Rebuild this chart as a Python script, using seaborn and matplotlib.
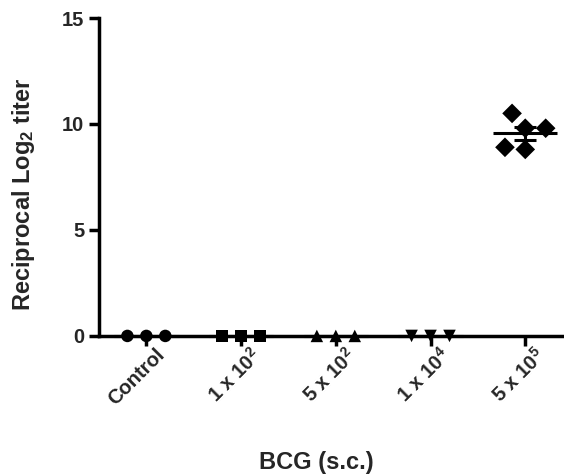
import numpy as np
import pandas as pd
import seaborn as sns
import matplotlib
matplotlib.use('Agg')
import matplotlib.pyplot as plt
from matplotlib.transforms import ScaledTranslation

# dane (log2 miana)
groups = ['Control', '1 x 10$^2$', '5 x 10$^2$', '1 x 10$^4$', '5 x 10$^5$']
control = [0, 0, 0]
bcg_1e2 = [0, 0, 0]
bcg_5e2 = [0, 0, 0]
bcg_1e4 = [0, 0, 0]
bcg_5e5 = [9.8, 9.8, 10.5, 8.8, 8.9]
markers = ['o', 's', '^', 'v', 'D']

sns.set_style('ticks')
plt.rcParams['font.family'] = ['Liberation Sans', 'DejaVu Sans']
plt.rcParams['font.weight'] = 'bold'
plt.rcParams['mathtext.fontset'] = 'custom'
plt.rcParams['mathtext.rm'] = 'Liberation Sans:bold'
plt.rcParams['mathtext.it'] = 'Liberation Sans:bold'
plt.rcParams['mathtext.bf'] = 'Liberation Sans:bold'
plt.rcParams['mathtext.default'] = 'rm'

series = [control, bcg_1e2, bcg_5e2, bcg_1e4, bcg_5e5]
df = pd.DataFrame({
    'group': np.repeat(groups, [len(s) for s in series]),
    'titer': np.concatenate(series),
})

fig = plt.figure(figsize=(5.64, 4.74), dpi=100)
ax = fig.add_axes([0.1755, 0.26, 0.823, 0.702])

for g, m in zip(groups, markers):
    sub = df[df['group'] == g]
    sns.swarmplot(data=sub, x='group', y='titer', order=groups, ax=ax,
                  marker=m, color='black', size=10 if m == 'D' else 9,
                  linewidth=4, edgecolor='none', zorder=5)

# srednia +/- SEM
for i, vals in enumerate(series):
    vals = np.asarray(vals, dtype=float)
    mean = vals.mean()
    sem = vals.std(ddof=1) / np.sqrt(len(vals))
    ax.hlines(mean, i - 0.34, i + 0.34, color='black', lw=2.2, zorder=6)
    if sem > 0:
        ax.errorbar(i, mean, yerr=sem, color='black', lw=2.2, capsize=8,
                    capthick=2.2, zorder=6)

ax.set_xlim(-0.5, 4.4)
ax.set_ylim(-0.7, 15)
ax.set_yticks([0, 5, 10, 15])
ax.spines['bottom'].set_position(('data', 0))
ax.spines['left'].set_bounds(0, 15)

ax.set_xlabel('BCG (s.c.)', fontsize=17, fontweight='bold', va='top')
ax.xaxis.set_label_coords(0.468, -0.30)
ax.set_ylabel('Reciprocal Log$_2$ titer', fontsize=17, fontweight='bold')
ax.yaxis.set_label_coords(-0.134, 0.471)
plt.xticks(rotation=45, ha='right', rotation_mode='anchor', fontsize=14.5, fontweight='bold')
plt.yticks(fontsize=14.5, fontweight='bold')
ax.tick_params(width=2.5, length=7, color='black')
ax.tick_params(axis='x', pad=1)

# przesuniecie etykiet osi x w prawo
offset = ScaledTranslation(0.09, 0.025, fig.dpi_scale_trans)
for lbl in ax.get_xticklabels():
    lbl.set_transform(lbl.get_transform() + offset)

for s in ['left', 'bottom']:
    ax.spines[s].set_linewidth(2.5)
    ax.spines[s].set_color('black')
ax.spines['top'].set_visible(False)
ax.spines['right'].set_visible(False)

fig.savefig('out.png', dpi=100)
